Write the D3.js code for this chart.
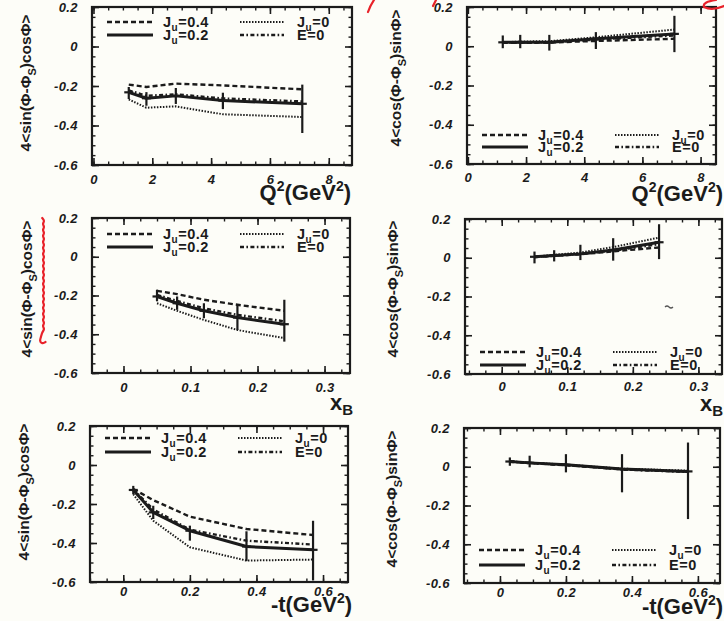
<!DOCTYPE html>
<html>
<head>
<meta charset="utf-8">
<script src="https://cdn.jsdelivr.net/npm/d3@7"></script>
<style>
  html, body { margin: 0; padding: 0; background: #fdfdf8; }
  svg { display: block; }
</style>
</head>
<body>
<svg id="fig" width="724" height="621"></svg>
<script>
// ---- kinematic bins -------------------------------------------------------
const q2Bins = [1.2, 1.8, 2.8, 4.4, 7.1];
const xbBins = [0.05, 0.08, 0.12, 0.17, 0.24];
const tBins  = [0.03, 0.09, 0.20, 0.37, 0.57];

// ---- tick labels ----------------------------------------------------------
const yTicks  = [-0.6, -0.4, -0.2, 0, 0.2];
const q2Ticks = [0, 2, 4, 6, 8];
const xbTicks = [0, 0.1, 0.2, 0.3];
const tTicks  = [0, 0.2, 0.4, 0.6];

// ---- model curves: 4<sin(phi-phiS)cos(phi)> -------------------------------
const scQ2J04 = [-0.193, -0.205, -0.188, -0.197, -0.217];
const scQ2J02 = [-0.232, -0.262, -0.250, -0.274, -0.290];
const scQ2J0  = [-0.268, -0.310, -0.303, -0.343, -0.357];
const scQ2E0  = [-0.222, -0.250, -0.242, -0.263, -0.278];
const scQ2ErrHi = [-0.205, -0.231, -0.210, -0.234, -0.193];
const scQ2ErrLo = [-0.266, -0.300, -0.291, -0.317, -0.438];

const scXbJ04 = [-0.176, -0.193, -0.222, -0.248, -0.279];
const scXbJ02 = [-0.205, -0.240, -0.279, -0.314, -0.348];
const scXbJ0  = [-0.240, -0.279, -0.326, -0.378, -0.420];
const scXbE0  = [-0.197, -0.228, -0.266, -0.300, -0.333];
const scXbErrHi = [-0.170, -0.205, -0.240, -0.248, -0.222];
const scXbErrLo = [-0.230, -0.274, -0.317, -0.378, -0.438];

const scTJ04 = [-0.123, -0.180, -0.265, -0.328, -0.359];
const scTJ02 = [-0.128, -0.243, -0.337, -0.418, -0.435];
const scTJ0  = [-0.150, -0.286, -0.422, -0.490, -0.485];
const scTE0  = [-0.125, -0.228, -0.332, -0.388, -0.408];
const scTErrHi = [-0.107, -0.209, -0.311, -0.340, -0.286];
const scTErrLo = [-0.150, -0.277, -0.388, -0.493, -0.592];

// ---- model curves: 4<cos(phi-phiS)sin(phi)> -------------------------------
const csQ2J04 = [0.017, 0.017, 0.019, 0.027, 0.038];
const csQ2J02 = [0.020, 0.020, 0.020, 0.038, 0.063];
const csQ2J0  = [0.020, 0.024, 0.026, 0.046, 0.085];
const csQ2E0  = [0.019, 0.019, 0.020, 0.034, 0.055];
const csQ2ErrHi = [0.055, 0.058, 0.058, 0.072, 0.155];
const csQ2ErrLo = [-0.010, -0.010, -0.022, -0.014, -0.030];

const csXbJ04 = [0.003, 0.010, 0.018, 0.033, 0.053];
const csXbJ02 = [0.005, 0.012, 0.020, 0.040, 0.080];
const csXbJ0  = [0.006, 0.015, 0.027, 0.055, 0.104];
const csXbE0  = [0.004, 0.011, 0.019, 0.037, 0.070];
const csXbErrHi = [0.032, 0.039, 0.067, 0.101, 0.173];
const csXbErrLo = [-0.029, -0.019, -0.012, -0.015, -0.007];

const csTJ04 = [0.027, 0.019, 0.008, -0.013, -0.025];
const csTJ02 = [0.027, 0.020, 0.010, -0.012, -0.024];
const csTJ0  = [0.028, 0.021, 0.011, -0.010, -0.020];
const csTE0  = [0.026, 0.019, 0.009, -0.014, -0.027];
const csTErrHi = [0.048, 0.057, 0.065, 0.065, 0.125];
const csTErrLo = [0.005, -0.003, -0.029, -0.132, -0.270];

// ---- legend entries (order: dashed, solid, dotted, dash-dot) --------------
const seriesMain = ["J", "J", "J", "E"];
const seriesSub  = ["u", "u", "u", ""];
const seriesRest = ["=0.4", "=0.2", "=0", "=0"];

// ---- styles ----------------------------------------------------------------
const ink = "#1b1b1b";
const lineStyles = [
  { width: 2.4, dash: "5,3" },            // J_u = 0.4
  { width: 3.0, dash: null },             // J_u = 0.2
  { width: 2.0, dash: "1.5,1.5" },        // J_u = 0
  { width: 2.4, dash: "4,2.4,1.6,2.4" }   // E = 0
];
const FONT = "'Liberation Sans', Arial, Helvetica, sans-serif";

// ---- panel layout ----------------------------------------------------------
const panels = [
  { frame: { x0: 92, x1: 352, y0: 7, y1: 165 }, xDomain: [-0.05, 8.79],
    bins: q2Bins, curves: [scQ2J04, scQ2J02, scQ2J0, scQ2E0], errHi: scQ2ErrHi, errLo: scQ2ErrLo,
    xTicks: q2Ticks, xMinorStep: 0.5, xFmt: d => String(d), tickPad: 10,
    yKind: "sc", yLab: { x: 31, y: 83 },
    title: "q2", titlePos: { x: 351, y: 200 },
    legendRows: [15, 28], legendFrom: "top" },
  { frame: { x0: 467, x1: 716, y0: 7, y1: 164 }, xDomain: [-0.03, 8.53],
    bins: q2Bins, curves: [csQ2J04, csQ2J02, csQ2J0, csQ2E0], errHi: csQ2ErrHi, errLo: csQ2ErrLo,
    xTicks: q2Ticks, xMinorStep: 0.5, xFmt: d => String(d), tickPad: 9,
    yKind: "cs", yLab: { x: 401, y: 78 },
    title: "q2", titlePos: { x: 723, y: 201 },
    legendRows: [29, 17], legendFrom: "bottom" },
  { frame: { x0: 92, x1: 350, y0: 218, y1: 373 }, xDomain: [-0.047, 0.338],
    bins: xbBins, curves: [scXbJ04, scXbJ02, scXbJ0, scXbE0], errHi: scXbErrHi, errLo: scXbErrLo,
    xTicks: xbTicks, xMinorStep: 0.025, xFmt: d => d === 0 ? "0" : d.toFixed(1), tickPad: 10,
    yKind: "sc", yLab: { x: 32, y: 289 },
    title: "xb", titlePos: { x: 353, y: 410 },
    legendRows: [16, 29], legendFrom: "top" },
  { frame: { x0: 465, x1: 722, y0: 219, y1: 374 }, xDomain: [-0.056, 0.336],
    bins: xbBins, curves: [csXbJ04, csXbJ02, csXbJ0, csXbE0], errHi: csXbErrHi, errLo: csXbErrLo,
    xTicks: xbTicks, xMinorStep: 0.025, xFmt: d => d === 0 ? "0" : d.toFixed(1), tickPad: 8,
    yKind: "cs", yLab: { x: 398, y: 289 },
    title: "xb", titlePos: { x: 723, y: 411 },
    legendRows: [22, 9], legendFrom: "bottom" },
  { frame: { x0: 90, x1: 348, y0: 426, y1: 582 }, xDomain: [-0.1, 0.675],
    bins: tBins, curves: [scTJ04, scTJ02, scTJ0, scTE0], errHi: scTErrHi, errLo: scTErrLo,
    xTicks: tTicks, xMinorStep: 0.05, xFmt: d => d === 0 ? "0" : d.toFixed(1), tickPad: 5,
    yKind: "sc", yLab: { x: 29, y: 492 },
    title: "t", titlePos: { x: 352, y: 612 },
    legendRows: [12, 26], legendFrom: "top" },
  { frame: { x0: 464, x1: 720, y0: 428, y1: 583 }, xDomain: [-0.109, 0.667],
    bins: tBins, curves: [csTJ04, csTJ02, csTJ0, csTE0], errHi: csTErrHi, errLo: csTErrLo,
    xTicks: tTicks, xMinorStep: 0.05, xFmt: d => d === 0 ? "0" : d.toFixed(1), tickPad: 5,
    yKind: "cs", yLab: { x: 397, y: 499 },
    title: "t", titlePos: { x: 723, y: 614 },
    legendRows: [33, 18], legendFrom: "bottom" }
];

const svg = d3.select("#fig");
svg.append("rect").attr("width", 724).attr("height", 621).attr("fill", "#fdfdf8");

function minorValues(domain, step) {
  const start = Math.ceil(domain[0] / step - 1e-9) * step;
  return d3.range(start, domain[1] + 1e-9, step).map(v => +v.toFixed(4));
}

function styleTickText(sel) {
  sel.selectAll("text")
    .attr("font-family", FONT).attr("font-size", 13)
    .attr("font-weight", "bold").attr("font-style", "italic")
    .attr("letter-spacing", 0.4)
    .attr("fill", ink);
}

function drawPanel(p) {
  const { x0, x1, y0, y1 } = p.frame;
  const x = d3.scaleLinear().domain(p.xDomain).range([x0, x1]);
  const y = d3.scaleLinear().domain([-0.6, 0.2]).range([y1, y0]);
  const g = svg.append("g");

  const yMinor = minorValues([-0.6, 0.2], 0.05);
  const xMinor = minorValues(p.xDomain, p.xMinorStep);
  const yFmt = d => d === 0 ? "0" : d.toFixed(1);

  // minor ticks on all four sides (inward)
  const minorAxes = [
    [d3.axisBottom(x).tickValues(xMinor), `translate(0,${y1})`],
    [d3.axisTop(x).tickValues(xMinor), `translate(0,${y0})`],
    [d3.axisLeft(y).tickValues(yMinor), `translate(${x0},0)`],
    [d3.axisRight(y).tickValues(yMinor), `translate(${x1},0)`]
  ];
  minorAxes.forEach(([ax, tr]) => {
    const a = g.append("g").attr("transform", tr)
      .call(ax.tickSize(-3.5).tickFormat(""));
    a.select(".domain").remove();
    a.selectAll("line").attr("stroke", ink).attr("stroke-width", 1.4);
  });

  // major ticks with labels on bottom/left, bare on top/right
  const bx = g.append("g").attr("transform", `translate(0,${y1})`)
    .call(d3.axisBottom(x).tickValues(p.xTicks).tickSize(-7).tickPadding(p.tickPad).tickFormat(p.xFmt));
  const lx = g.append("g").attr("transform", `translate(${x0},0)`)
    .call(d3.axisLeft(y).tickValues(yTicks).tickSize(-7).tickPadding(14).tickFormat(yFmt));
  const tx = g.append("g").attr("transform", `translate(0,${y0})`)
    .call(d3.axisTop(x).tickValues(p.xTicks).tickSize(-7).tickFormat(""));
  const rx = g.append("g").attr("transform", `translate(${x1},0)`)
    .call(d3.axisRight(y).tickValues(yTicks).tickSize(-7).tickFormat(""));
  [bx, lx, tx, rx].forEach(a => {
    a.select(".domain").remove();
    a.selectAll("line").attr("stroke", ink).attr("stroke-width", 1.6);
    styleTickText(a);
  });

  // frame
  g.append("rect").attr("x", x0).attr("y", y0)
    .attr("width", x1 - x0).attr("height", y1 - y0)
    .attr("fill", "none").attr("stroke", ink).attr("stroke-width", 2.2);

  // model curves
  const line = d3.line().x(d => x(d[0])).y(d => y(d[1]));
  p.curves.forEach((vals, i) => {
    const pts = p.bins.map((b, k) => [b, vals[k]]);
    const st = lineStyles[i];
    g.append("path").attr("d", line(pts))
      .attr("fill", "none").attr("stroke", ink)
      .attr("stroke-width", st.width)
      .attr("stroke-dasharray", st.dash)
      .attr("stroke-linejoin", "round");
  });

  // projected error bars on the J_u = 0.2 curve
  const ref = p.curves[1];
  p.bins.forEach((b, k) => {
    g.append("line")
      .attr("x1", x(b)).attr("x2", x(b))
      .attr("y1", y(p.errHi[k])).attr("y2", y(p.errLo[k]))
      .attr("stroke", ink).attr("stroke-width", 2.2);
    g.append("line")
      .attr("x1", x(b) - 4.5).attr("x2", x(b) + 4.5)
      .attr("y1", y(ref[k])).attr("y2", y(ref[k]))
      .attr("stroke", ink).attr("stroke-width", 2.2);
  });

  // legend
  const rowY = p.legendFrom === "top"
    ? p.legendRows.map(o => y0 + o)
    : p.legendRows.map(o => y1 - o);
  const slots = [
    { row: 0, sx: 15, ex: 61, tx: 71 },
    { row: 1, sx: 15, ex: 61, tx: 71 },
    { row: 0, sx: 148, ex: 192, tx: 205 },
    { row: 1, sx: 148, ex: 192, tx: 205 }
  ];
  slots.forEach((s, i) => {
    const yy = rowY[s.row];
    const st = lineStyles[i];
    g.append("line")
      .attr("x1", x0 + s.sx).attr("x2", x0 + s.ex)
      .attr("y1", yy).attr("y2", yy)
      .attr("stroke", ink).attr("stroke-width", st.width)
      .attr("stroke-dasharray", st.dash);
    const t = g.append("text")
      .attr("x", x0 + s.tx).attr("y", yy + 5)
      .attr("font-family", FONT).attr("font-size", 14.5)
      .attr("font-weight", "bold").attr("letter-spacing", 0.5)
      .attr("fill", ink);
    t.append("tspan").text(seriesMain[i]);
    if (seriesSub[i]) {
      t.append("tspan").attr("font-size", 10).attr("dy", 4).text(seriesSub[i]);
      t.append("tspan").attr("dy", -4).text(seriesRest[i]);
    } else {
      t.append("tspan").text(seriesRest[i]);
    }
  });

  // y-axis label (rotated)
  const yl = g.append("text")
    .attr("transform", `translate(${p.yLab.x},${p.yLab.y}) rotate(-90)`)
    .attr("text-anchor", "middle")
    .attr("font-family", FONT).attr("font-size", 15.5).attr("font-weight", "bold")
    .attr("fill", ink);
  const [pre, post] = p.yKind === "sc"
    ? ["4<sin(\u03A6-\u03A6", ")cos\u03A6>"]
    : ["4<cos(\u03A6-\u03A6", ")sin\u03A6>"];
  yl.append("tspan").text(pre);
  yl.append("tspan").attr("font-size", 11).attr("dy", 5).text("S");
  yl.append("tspan").attr("dy", -5).text(post);

  // x-axis title
  const xt = g.append("text")
    .attr("x", p.titlePos.x).attr("y", p.titlePos.y)
    .attr("text-anchor", "end")
    .attr("font-family", FONT).attr("font-size", 22).attr("font-weight", "bold")
    .attr("fill", ink);
  if (p.title === "q2") {
    xt.append("tspan").text("Q");
    xt.append("tspan").attr("font-size", 14).attr("dy", -9).text("2");
    xt.append("tspan").attr("dy", 9).text("(GeV");
    xt.append("tspan").attr("font-size", 14).attr("dy", -9).text("2");
    xt.append("tspan").attr("dy", 9).text(")");
  } else if (p.title === "xb") {
    xt.append("tspan").text("x");
    xt.append("tspan").attr("font-size", 15).attr("dy", 5).text("B");
  } else {
    xt.append("tspan").text("-t(GeV");
    xt.append("tspan").attr("font-size", 14).attr("dy", -9).text("2");
    xt.append("tspan").attr("dy", 9).text(")");
  }
}

panels.forEach(drawPanel);

// ---- pen annotations and specks on the sheet -------------------------------
const pen = "#e8222a";
const ann = svg.append("g").attr("fill", "none").attr("stroke", pen)
  .attr("stroke-linecap", "round").attr("stroke-linejoin", "round").attr("stroke-width", 2.2);
ann.append("path").attr("d", "M368,12 Q370,6 374,0");
ann.append("path").attr("d", "M433,6 L436,0");
ann.append("path").attr("d", "M716,0 Q702,2 704,7 Q712,11 724,6");
// wavy vertical stroke beside the middle-left axis label
const wave = d3.range(218, 334, 3).map((v, i) => [43.5 + (i % 2 ? 1.3 : -1.3), v]);
wave.push([41, 337], [39.5, 341], [42, 344], [45.5, 342]);
ann.append("path").attr("d", d3.line().curve(d3.curveBasis)(wave));
// small pencil squiggle in the middle-right panel
svg.append("path").attr("d", "M665,307 q2,-2 4,0 t4,0")
  .attr("fill", "none").attr("stroke", "#555").attr("stroke-width", 1.2);
</script>
</body>
</html>
